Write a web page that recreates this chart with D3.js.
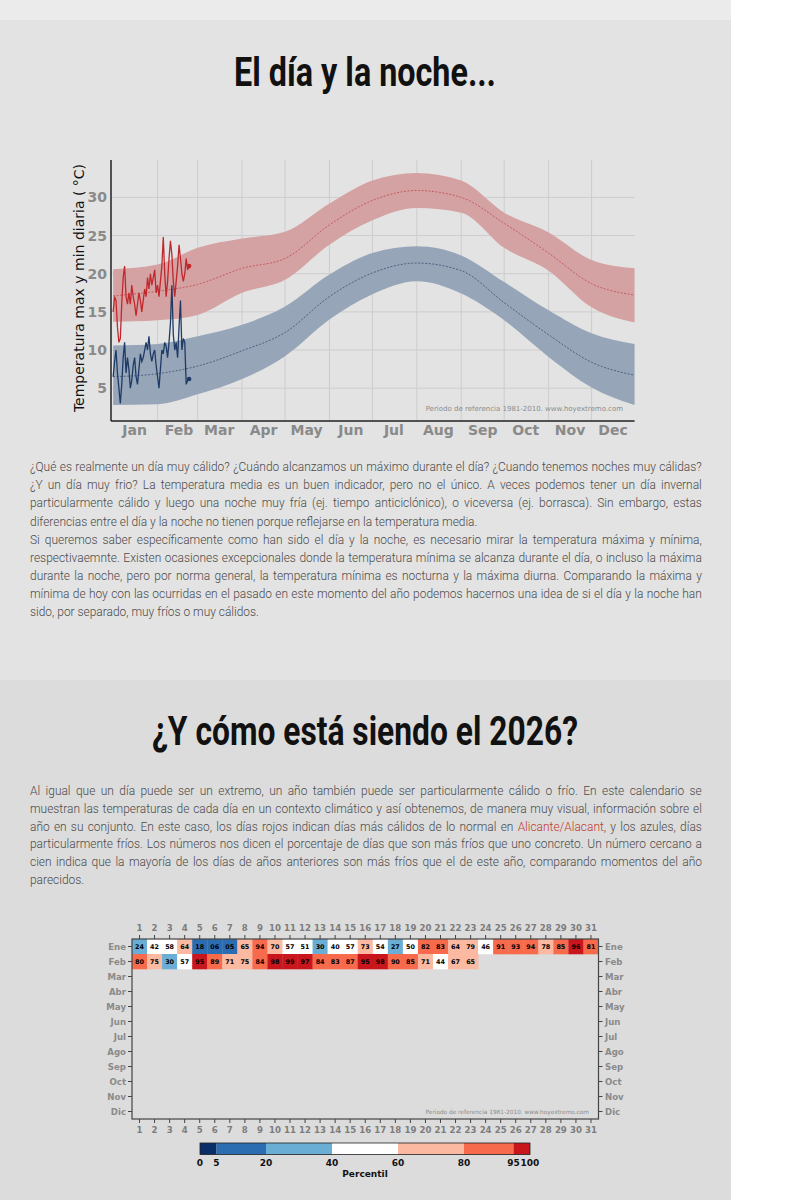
<!DOCTYPE html>
<html>
<head>
<meta charset="utf-8">
<script src="https://cdn.jsdelivr.net/npm/d3@7"></script>
<style>
  body { margin: 0; background: #fff; width: 809px; height: 1200px; overflow: hidden; position: relative; }
  .bg { position: absolute; left: 0; width: 731px; }
  #strip { top: 0; height: 20px; background: #ebebeb; }
  #sec1 { top: 20px; height: 660px; background: #e3e3e3; }
  #sec2 { top: 680px; height: 520px; background: #dcdcdc; }
  #page { position: absolute; left: 0; top: 0; }
  .ln { position: absolute; left: 30px; width: 672px; height: 18px; line-height: 18px;
        font-family: Roboto, sans-serif; font-weight: 300; font-size: 11.95px; color: #4a4a4a;
        white-space: nowrap; display: flex; justify-content: space-between; }
  .ln.last { display: block; }
  .red { color: #c0392b; }
  svg text { font-family: "DejaVu Sans", sans-serif; }
</style>
</head>
<body>
<div class="bg" id="strip"></div>
<div class="bg" id="sec1"></div>
<div class="bg" id="sec2"></div>
<div id="page"></div>
<script>
//-----------------------------------------------------//
// Chart data

const monthLabels = ["Jan","Feb","Mar","Apr","May","Jun","Jul","Aug","Sep","Oct","Nov","Dec"];
const monthStarts = [0,31,59,90,120,151,181,212,243,273,304,334];
const yTicks = [5,10,15,20,25,30];

// climatology band nodes (day of year)
const bandDays = [0,31,59,90,120,151,181,212,243,273,304,334,364];
const maxMean  = [17.1,17.7,18.6,20.7,22.0,26.4,29.6,30.9,30.0,26.6,22.7,18.7,17.2];
const maxHigh  = [20.6,21.2,23.4,24.6,25.5,29.2,32.2,33.2,32.2,28.0,25.4,21.8,20.7];
const maxLow   = [13.7,13.9,14.6,17.5,19.2,23.8,27.0,28.6,28.0,23.4,20.4,15.6,13.6];
const minMean  = [6.5,6.9,7.9,9.9,12.3,17.0,20.1,21.4,20.4,16.2,12.0,8.4,6.7];
const minHigh  = [10.6,10.8,11.8,13.3,15.7,19.9,22.7,23.6,22.4,18.9,15.2,12.2,10.8];
const minLow   = [2.8,2.9,4.2,6.2,9.2,14.0,17.3,19.0,17.4,13.9,9.1,5.1,2.8];

// observed 2026 daily max / min (1 Jan .. 23 Feb)
const obsMax = [15,17,16.5,13,11,11.5,16,19.5,21,17,16,17.5,16,18.5,17,16,14.5,16,17.5,16.5,
  15,16.5,18,17,19.5,18,20,18.5,19.5,20.5,17.5,18.5,17,19,21,24.8,20,17,19,22,
  24.3,22.5,19,17,19,21,23.8,22,20,19,20,22,20.5,21];
const obsMin = [6.5,8.5,10,7,5,3,5.5,9,11,7,9,7.5,5,6,8,9,6.5,5.5,7.5,9.5,
  8.5,9,10,11,10,11.8,9.5,8.5,9.5,10,8,6.5,5,7.5,10,9.5,11,10.5,9,11,
  13.5,18.5,12,10,11,9,13,16.5,10,11.5,11,5.5,6,6.2];

// calendar percentiles
const calMonths = ["Ene","Feb","Mar","Abr","May","Jun","Jul","Ago","Sep","Oct","Nov","Dic"];
const calDays = d3.range(1, 32);
const pctEne = [24,42,58,64,18,6,5,65,94,70,57,51,30,40,57,73,54,27,50,82,83,64,79,46,91,93,94,78,85,96,81];
const pctFeb = [80,75,30,57,95,89,71,75,84,98,99,97,84,83,87,95,98,90,85,71,44,67,65];
const pctBreaks = [0,5,20,40,60,80,95,100];
const pctColors = ["#0a2f68","#2c6db2","#6aaed6","#ffffff","#fcb9a1","#f76a4c","#c9161d"];

// page texts
const para1 = [
  "¿Qué es realmente un día muy cálido? ¿Cuándo alcanzamos un máximo durante el día? ¿Cuando tenemos noches muy cálidas?",
  "¿Y un día muy frio? La temperatura media es un buen indicador, pero no el único. A veces podemos tener un día invernal",
  "particularmente cálido y luego una noche muy fría (ej. tiempo anticiclónico), o viceversa (ej. borrasca). Sin embargo, estas",
  "diferencias entre el día y la noche no tienen porque reflejarse en la temperatura media."
];
const para2 = [
  "Si queremos saber específicamente como han sido el día y la noche, es necesario mirar la temperatura máxima y mínima,",
  "respectivaemnte. Existen ocasiones excepcionales donde la temperatura mínima se alcanza durante el día, o incluso la máxima",
  "durante la noche, pero por norma general, la temperatura mínima es nocturna y la máxima diurna. Comparando la máxima y",
  "mínima de hoy con las ocurridas en el pasado en este momento del año podemos hacernos una idea de si el día y la noche han",
  "sido, por separado, muy fríos o muy cálidos."
];
const para3 = [
  "Al igual que un día puede ser un extremo, un año también puede ser particularmente cálido o frío. En este calendario se",
  "muestran las temperaturas de cada día en un contexto climático y así obtenemos, de manera muy visual, información sobre el",
  "año en su conjunto. En este caso, los días rojos indican días más cálidos de lo normal en Alicante/Alacant, y los azules, días",
  "particularmente fríos. Los números nos dicen el porcentaje de días que son más fríos que uno concreto. Un número cercano a",
  "cien indica que la mayoría de los días de años anteriores son más fríos que el de este año, comparando momentos del año",
  "parecidos."
];
const placeName = "Alicante/Alacant";

//-----------------------------------------------------//

const svg = d3.select("#page").append("svg")
  .attr("width", 809).attr("height", 1200);

// Titles
svg.append("text").attr("x", 234).attr("y", 86)
  .attr("textLength", 262).attr("lengthAdjust", "spacingAndGlyphs")
  .style("font-family", "Roboto").style("font-weight", 700).style("font-size", "40px")
  .attr("fill", "#111").text("El día y la noche...");
svg.append("text").attr("x", 152).attr("y", 745)
  .attr("textLength", 426).attr("lengthAdjust", "spacingAndGlyphs")
  .style("font-family", "Roboto").style("font-weight", 700).style("font-size", "40px")
  .attr("fill", "#111").text("¿Y cómo está siendo el 2026?");

// Paragraph lines: every line justified on its own (words spread with flex)
function writeLines(lines, top, step) {
  lines.forEach((t, i) => {
    const last = i === lines.length - 1;
    const div = d3.select("body").append("div")
      .attr("class", "ln" + (last ? " last" : ""))
      .style("top", (top + i * step) + "px");
    if (last) { div.text(t); return; }
    t.split(" ").forEach(w => {
      const s = div.append("span");
      if (w.startsWith(placeName)) {
        s.append("span").attr("class", "red").text(placeName);
        s.append("span").text(w.slice(placeName.length));
      } else {
        s.text(w);
      }
    });
  });
}
writeLines(para1, 458, 18.2);
writeLines(para2, 531, 18.1);
writeLines(para3, 782, 17.8);

//-----------------------------------------------------//
// Top chart: max / min temperature bands

const x1 = d3.scaleLinear().domain([-1.5, 365]).range([111, 636]);
const y1 = d3.scaleLinear().domain([0.7, 34.9]).range([421, 160]);
const g1 = svg.append("g");

g1.selectAll(".hgrid").data(yTicks).join("line")
  .attr("x1", 111).attr("x2", x1(364))
  .attr("y1", d => y1(d)).attr("y2", d => y1(d))
  .attr("stroke", "#cdcdcd").attr("stroke-width", 1);
g1.selectAll(".vgrid").data(monthStarts.slice(1)).join("line")
  .attr("x1", d => x1(d)).attr("x2", d => x1(d))
  .attr("y1", 160).attr("y2", 421)
  .attr("stroke", "#cdcdcd").attr("stroke-width", 1);

const band = bandDays.map((d, i) => ({
  d: d, mxm: maxMean[i], mxh: maxHigh[i], mxl: maxLow[i],
  mnm: minMean[i], mnh: minHigh[i], mnl: minLow[i]
}));

function bandArea(lo, hi) {
  return d3.area().x(r => x1(r.d)).y0(r => y1(r[lo])).y1(r => y1(r[hi]))
    .curve(d3.curveMonotoneX);
}
function meanLine(key) {
  return d3.line().x(r => x1(r.d)).y(r => y1(r[key])).curve(d3.curveMonotoneX);
}

g1.append("path").attr("d", bandArea("mxl", "mxh")(band)).attr("fill", "#d5a2a3");
g1.append("path").attr("d", bandArea("mnl", "mnh")(band)).attr("fill", "#96a6b8");
g1.append("path").attr("d", meanLine("mxm")(band)).attr("fill", "none")
  .attr("stroke", "#c04a4c").attr("stroke-width", 0.8).attr("stroke-dasharray", "2,1.5");
g1.append("path").attr("d", meanLine("mnm")(band)).attr("fill", "none")
  .attr("stroke", "#3a5072").attr("stroke-width", 0.8).attr("stroke-dasharray", "2,1.5");

const obsLine = d3.line().x((v, i) => x1(i)).y(v => y1(v));
g1.append("path").attr("d", obsLine(obsMax)).attr("fill", "none")
  .attr("stroke", "#c0282e").attr("stroke-width", 1.3);
g1.append("path").attr("d", obsLine(obsMin)).attr("fill", "none")
  .attr("stroke", "#1e3a66").attr("stroke-width", 1.3);
g1.append("circle").attr("cx", x1(obsMax.length - 1)).attr("cy", y1(obsMax[obsMax.length - 1]))
  .attr("r", 2.3).attr("fill", "#c0282e");
g1.append("circle").attr("cx", x1(obsMin.length - 1)).attr("cy", y1(obsMin[obsMin.length - 1]))
  .attr("r", 2.3).attr("fill", "#1e3a66");

// spines
g1.append("line").attr("x1", 111).attr("x2", 111).attr("y1", 160).attr("y2", 421)
  .attr("stroke", "#222").attr("stroke-width", 1.5);
g1.append("line").attr("x1", 111).attr("x2", x1(364)).attr("y1", 421).attr("y2", 421)
  .attr("stroke", "#222").attr("stroke-width", 1.5);

g1.selectAll(".ylab").data(yTicks).join("text")
  .attr("x", 107).attr("y", d => y1(d)).attr("dy", "0.36em")
  .attr("text-anchor", "end").attr("fill", "#8a8a8a")
  .style("font-weight", "bold").style("font-size", "14px")
  .text(d => d);
g1.selectAll(".xlab").data(monthLabels).join("text")
  .attr("x", (d, i) => x1(monthStarts[i] + 15)).attr("y", 435)
  .attr("text-anchor", "middle").attr("fill", "#8a8a8a")
  .style("font-weight", "bold").style("font-size", "14px")
  .text(d => d);
g1.append("text").attr("transform", "translate(84,288) rotate(-90)")
  .attr("text-anchor", "middle").attr("fill", "#111").style("font-size", "14px")
  .text("Temperatura max y min diaria ( °C)");
g1.append("text").attr("x", 623).attr("y", 411).attr("text-anchor", "end")
  .attr("fill", "#8c8c8c").style("font-size", "7px")
  .text("Periodo de referencia 1981-2010. www.hoyextremo.com");

//-----------------------------------------------------//
// Calendar of percentiles

const cx = d3.scaleBand().domain(calDays).range([132, 598.5]);
const cy = d3.scaleBand().domain(calMonths).range([939, 1119]);
const color = d3.scaleThreshold().domain(pctBreaks.slice(1, -1)).range(pctColors);
const g2 = svg.append("g");

const cells = [];
[pctEne, pctFeb].forEach((row, m) => row.forEach((v, i) =>
  cells.push({ month: calMonths[m], day: i + 1, v: v })));

g2.selectAll(".cell").data(cells).join("rect")
  .attr("x", d => cx(d.day)).attr("y", d => cy(d.month))
  .attr("width", cx.bandwidth() + 0.3).attr("height", cy.bandwidth() + 0.3)
  .attr("fill", d => color(d.v));
g2.selectAll(".cnum").data(cells).join("text")
  .attr("x", d => cx(d.day) + cx.bandwidth() / 2)
  .attr("y", d => cy(d.month) + cy.bandwidth() / 2).attr("dy", "0.36em")
  .attr("text-anchor", "middle").attr("fill", "#000")
  .style("font-weight", "bold").style("font-size", "6.4px")
  .text(d => d3.format("02d")(d.v));

g2.append("rect").attr("x", 132).attr("y", 939).attr("width", 466.5).attr("height", 180)
  .attr("fill", "none").attr("stroke", "#444").attr("stroke-width", 1.2);

const tickStyle = s => s.attr("stroke", "#444").attr("stroke-width", 1);
const dayMid = d => cx(d) + cx.bandwidth() / 2;
const monMid = m => cy(m) + cy.bandwidth() / 2;

g2.selectAll(".tt").data(calDays).join("line")
  .attr("x1", dayMid).attr("x2", dayMid).attr("y1", 935).attr("y2", 939).call(tickStyle);
g2.selectAll(".bt").data(calDays).join("line")
  .attr("x1", dayMid).attr("x2", dayMid).attr("y1", 1119).attr("y2", 1123).call(tickStyle);
g2.selectAll(".lt").data(calMonths).join("line")
  .attr("x1", 128).attr("x2", 132).attr("y1", monMid).attr("y2", monMid).call(tickStyle);
g2.selectAll(".rt").data(calMonths).join("line")
  .attr("x1", 598.5).attr("x2", 602.5).attr("y1", monMid).attr("y2", monMid).call(tickStyle);

[930.5, 1132.5].forEach(yy => {
  g2.selectAll(null).data(calDays).join("text")
    .attr("x", dayMid).attr("y", yy).attr("text-anchor", "middle")
    .attr("fill", "#7d7d7d").style("font-weight", "bold").style("font-size", "8.6px")
    .text(d => d);
});
[[126, "end"], [605, "start"]].forEach(([xx, anchor]) => {
  g2.selectAll(null).data(calMonths).join("text")
    .attr("x", xx).attr("y", monMid).attr("dy", "0.36em").attr("text-anchor", anchor)
    .attr("fill", "#8a8a8a").style("font-weight", "bold").style("font-size", "8.6px")
    .text(d => d);
});
g2.append("text").attr("x", 589).attr("y", 1114).attr("text-anchor", "end")
  .attr("fill", "#8c8c8c").style("font-size", "5.8px")
  .text("Periodo de referencia 1981-2010. www.hoyextremo.com");

// colour bar
const cb = d3.scaleLinear().domain([0, 100]).range([200, 530]);
const segs = pctColors.map((c, i) => ({ a: pctBreaks[i], b: pctBreaks[i + 1], c: c }));
g2.selectAll(".seg").data(segs).join("rect")
  .attr("x", d => cb(d.a)).attr("width", d => cb(d.b) - cb(d.a))
  .attr("y", 1143).attr("height", 11.5).attr("fill", d => d.c);
g2.append("rect").attr("x", 200).attr("y", 1143).attr("width", 330).attr("height", 11.5)
  .attr("fill", "none").attr("stroke", "#222").attr("stroke-width", 0.8);
g2.selectAll(".cbl").data(pctBreaks).join("text")
  .attr("x", d => cb(d)).attr("y", 1166).attr("text-anchor", "middle")
  .attr("fill", "#111").style("font-weight", "bold").style("font-size", "9px")
  .text(d => d);
g2.append("text").attr("x", 365).attr("y", 1177).attr("text-anchor", "middle")
  .attr("fill", "#111").style("font-weight", "bold").style("font-size", "9px")
  .text("Percentil");
</script>
</body>
</html>
